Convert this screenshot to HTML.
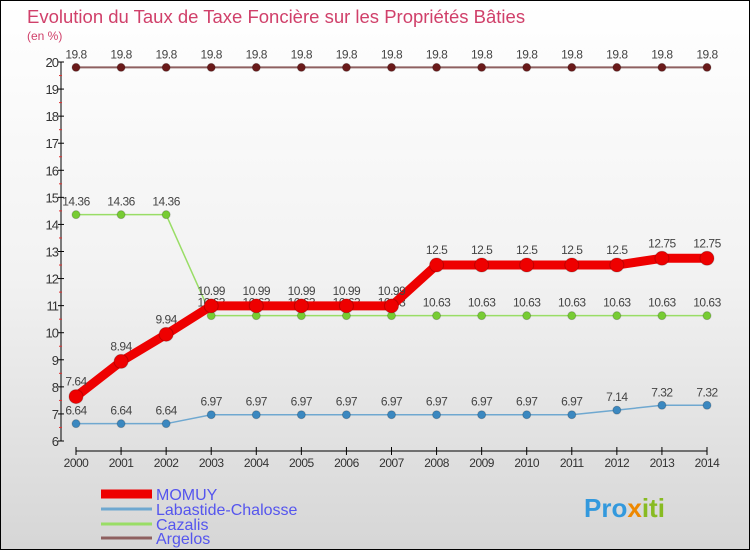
<!DOCTYPE html>
<html><head><meta charset="utf-8"><style>
body{margin:0}
#wrap{width:748px;height:548px;border:1px solid #000;background:linear-gradient(#fff 0%,#f2f2f2 50%,#d6d6d6 100%);position:relative;font-family:"Liberation Sans",sans-serif;overflow:hidden}
</style></head><body>
<div id="wrap">
<svg id="chart" width="748" height="548"></svg>
</div>
<script>
const years=[2000,2001,2002,2003,2004,2005,2006,2007,2008,2009,2010,2011,2012,2013,2014];
const momuy=[7.64,8.94,9.94,10.99,10.99,10.99,10.99,10.99,12.5,12.5,12.5,12.5,12.5,12.75,12.75];
const labastide=[6.64,6.64,6.64,6.97,6.97,6.97,6.97,6.97,6.97,6.97,6.97,6.97,7.14,7.32,7.32];
const cazalis=[14.36,14.36,14.36,10.63,10.63,10.63,10.63,10.63,10.63,10.63,10.63,10.63,10.63,10.63,10.63];
const argelos=[19.8,19.8,19.8,19.8,19.8,19.8,19.8,19.8,19.8,19.8,19.8,19.8,19.8,19.8,19.8];
const yTicks=[6,7,8,9,10,11,12,13,14,15,16,17,18,19,20];
const seriesNames=["MOMUY","Labastide-Chalosse","Cazalis","Argelos"];

const NS="http://www.w3.org/2000/svg";
const svg=document.getElementById('chart');
function x(i){return 75+i*(706-75)/(years.length-1);}
function y(v){return 440-(v-6)*(440-61)/14;}
function mk(t,a,p){const e=document.createElementNS(NS,t);for(const k in a)e.setAttribute(k,a[k]);(p||svg).appendChild(e);return e;}

let t=mk('text',{x:26,y:22,fill:'#d0406a','font-size':18.5});t.textContent="Evolution du Taux de Taxe Foncière sur les Propriétés Bâties";


t=mk('text',{x:26,y:39,fill:'#d0406a','font-size':12});t.textContent="(en %)";



let ax=mk('line',{x1:60,y1:61,x2:60,y2:440,stroke:'#000','stroke-width':1});


yTicks.forEach(v=>{
  mk('line',{x1:57,y1:y(v),x2:63,y2:y(v),stroke:'#000'});
  if(v<20)mk('line',{x1:58,y1:y(v+0.5),x2:61,y2:y(v+0.5),stroke:'#e03030'});
  const l=mk('text',{x:57,y:y(v)+5,'text-anchor':'end','font-size':13,fill:'#333','letter-spacing':'-1'});l.textContent=v;
  
  
});
ax=mk('line',{x1:75,y1:450,x2:706,y2:450,stroke:'#000'});


years.forEach((yr,i)=>{
  mk('line',{x1:x(i),y1:446,x2:x(i),y2:454,stroke:'#000'});
  const l=mk('text',{x:x(i),y:466,'text-anchor':'middle','font-size':12,fill:'#333','letter-spacing':'-0.5'});l.textContent=yr;
  
  
});

function series(data,color,lw,r,dot,name,labelDy){
  const g=mk('g',{});
  
  
  mk('polyline',{points:data.map((v,i)=>x(i)+','+y(v)).join(' '),fill:'none',stroke:color,'stroke-width':lw},g);
  data.forEach((v,i)=>{
    const c=mk('circle',{cx:x(i),cy:y(v),r:r,fill:dot,stroke:'rgba(0,0,0,0.2)'},g);
    
    
    const l=mk('text',{x:x(i),y:y(v)+labelDy,'text-anchor':'middle','font-size':12,fill:'#444','letter-spacing':'-0.5'},g);
    l.textContent=v;
    
    
  });
}
series(argelos,'#8e6060',2,4,'#6a1a1a','series-argelos',-9);
series(cazalis,'#99dd66',1.5,4,'#77cc33','series-cazalis',-9);
series(labastide,'#6fa8d0',1.5,4,'#3b88c0','series-labastide',-9);
series(momuy,'#ee0000',9,7,'#ee0000','series-momuy',-11);

const lc=['#ee0000','#6fa8d0','#99dd66','#8e6060'],lw=[9,3,3,3],ly=[493,508,523,537];
seriesNames.forEach((n,i)=>{
  const g=mk('g',{});
  
  
  mk('line',{x1:100,y1:ly[i],x2:151,y2:ly[i],stroke:lc[i],'stroke-width':lw[i]},g);
  const l=mk('text',{x:155,y:ly[i]+6,'font-size':16,fill:'#5555ee'},g);l.textContent=n;
});
const lg=mk('text',{x:583,y:516,'font-size':26,'font-weight':'bold',fill:'#3399dd'});
lg.innerHTML='<tspan fill="#3399dd">Pro</tspan><tspan fill="#ee8800">x</tspan><tspan fill="#88bb22">iti</tspan>';


</script>
</body></html>
